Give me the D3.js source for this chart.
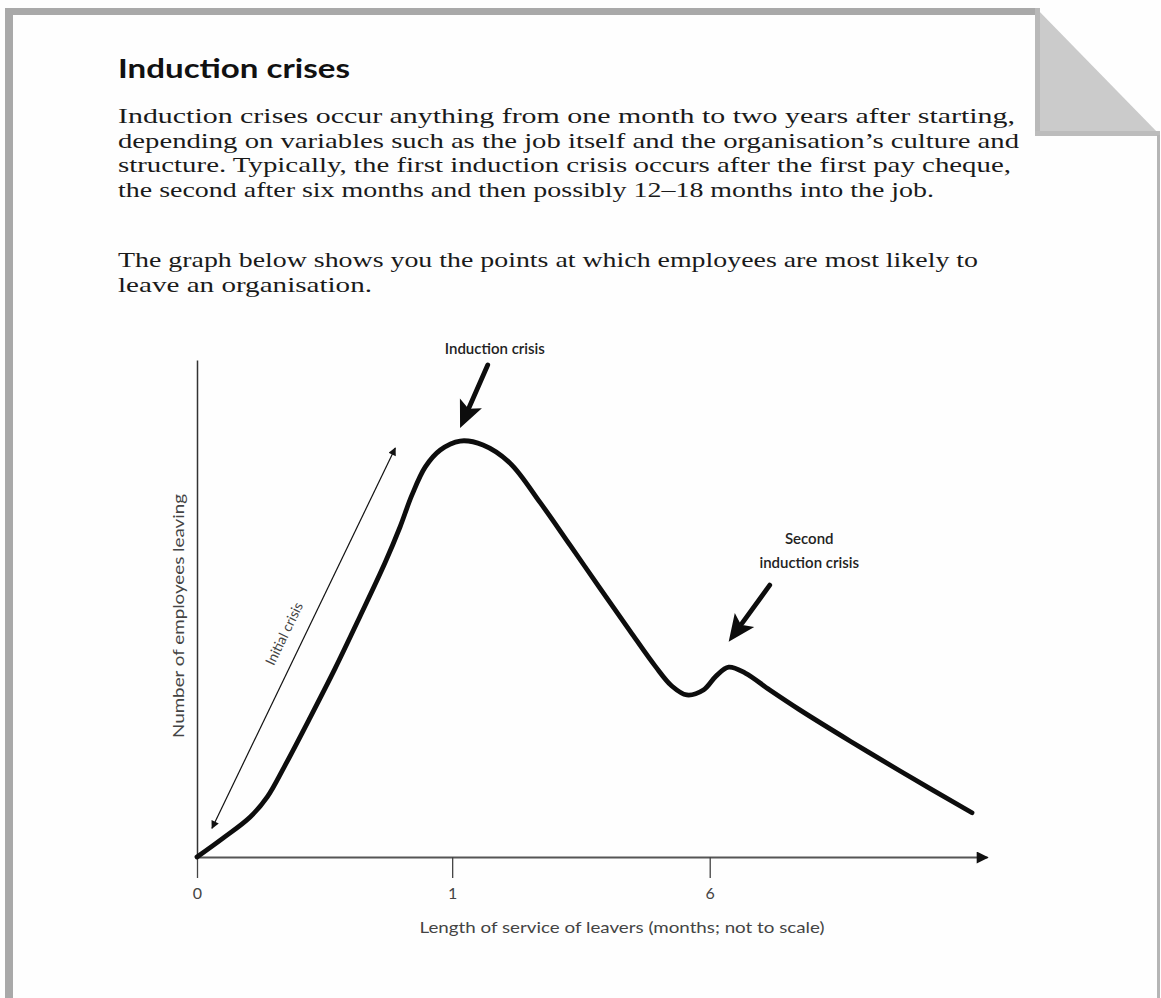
<!DOCTYPE html>
<html><head><meta charset="utf-8">
<script src="https://cdn.jsdelivr.net/npm/d3@7"></script>
<style>html,body{margin:0;padding:0;background:#fff;} svg{display:block;}</style>
</head><body>
<script>
// ---- text content ----
const titleText = "Induction crises";
const bodyLines = [
  "Induction crises occur anything from one month to two years after starting,",
  "depending on variables such as the job itself and the organisation\u2019s culture and",
  "structure. Typically, the first induction crisis occurs after the first pay cheque,",
  "the second after six months and then possibly 12\u201318 months into the job.",
  "The graph below shows you the points at which employees are most likely to",
  "leave an organisation."
];
const xAxisTitle = "Length of service of leavers (months; not to scale)";
const yAxisTitle = "Number of employees leaving";

// ---- axis ticks (x axis is "not to scale": positions on a 0-100 sketch axis) ----
const tickPositions = [0, 32.3, 64.9];
const tickLabels = ["0", "1", "6"];

// ---- curve: number of employees leaving (sketch units 0-100) ----
const curveX = [0, 3.3, 6.7, 8.9, 11.1, 14.3, 17.5, 20.6, 23.8, 25.7, 27.2, 28.9, 30.8, 33.3, 36.2, 39.6, 43.4, 47.2, 51.0, 54.8, 58.0, 60.1, 62.0, 64.1, 65.7, 67.3, 69.4, 72.5, 76.3, 82.7, 89.0, 98.1];
const curveY = [0, 3.8, 8.0, 12.1, 18.3, 28.0, 38.0, 48.3, 59.2, 66.4, 72.8, 78.5, 81.9, 83.7, 82.9, 79.3, 71.4, 62.8, 54.1, 45.5, 38.4, 34.4, 32.6, 33.6, 36.4, 38.2, 37.0, 33.6, 29.6, 23.3, 17.3, 8.9];

// ---- annotations (in sketch units) ----
const annotLabels = [["Induction crisis"], ["Second", "induction crisis"]];
const annotLabelPos = [[37.7, 101.3], [77.5, 63.0]];
const annotArrowFrom = [[36.8, 99.0], [72.5, 54.7]];
const annotArrowTo = [[33.3, 86.3], [67.3, 43.3]];
const initialLabel = "Initial crisis";
const initialFrom = [1.9, 5.8];
const initialTo = [25.1, 82.3];
const initialLabelPos = [11.6, 44.5];

// ---- drawing ----
const W = 1161, H = 998;
const svg = d3.select("body").append("svg").attr("width", W).attr("height", H);
svg.append("rect").attr("width", W).attr("height", H).attr("fill", "#fefefe");

// page frame with folded corner
const frame = svg.append("g");
frame.append("rect").attr("x", 5).attr("y", 8).attr("width", 8).attr("height", H - 8).attr("fill", "#a9a9a9");
frame.append("rect").attr("x", 5).attr("y", 8).attr("width", 1032).attr("height", 7).attr("fill", "#a9a9a9");
frame.append("polygon").attr("points", "1036,8 1036,135 1160,135").attr("fill", "#cbcbcb");
frame.append("rect").attr("x", 1035).attr("y", 8).attr("width", 5).attr("height", 128).attr("fill", "#b9b9b9");
frame.append("rect").attr("x", 1035).attr("y", 131).attr("width", 125).attr("height", 5).attr("fill", "#bcbcbc");
frame.append("rect").attr("x", 1157).attr("y", 135).attr("width", 3).attr("height", H - 135).attr("fill", "#b5b5b5");

// heading + body text
svg.append("text").attr("x", 118).attr("y", 78)
  .attr("font-family", "Lato, 'Open Sans', sans-serif").attr("font-weight", "bold")
  .attr("font-size", 27).attr("fill", "#111")
  .attr("textLength", 232).attr("lengthAdjust", "spacingAndGlyphs")
  .text(titleText);

const bodyBaselines = [123, 147.6, 172.2, 196.8, 267, 291.6];
const bodyWidths = [897, 901, 893, 816, 860, 254];
svg.append("g").selectAll("text").data(bodyLines).join("text")
  .attr("x", 118).attr("y", (d, i) => bodyBaselines[i])
  .attr("font-family", "'Liberation Serif', 'DejaVu Serif', serif")
  .attr("font-size", 22).attr("fill", "#1a1a1a")
  .attr("textLength", (d, i) => bodyWidths[i]).attr("lengthAdjust", "spacingAndGlyphs")
  .text(d => d);

// scales
const x = d3.scaleLinear().domain([0, 100]).range([197, 987]);
const y = d3.scaleLinear().domain([0, 100]).range([857, 360]);

const defs = svg.append("defs");
defs.append("marker").attr("id", "axArrow").attr("viewBox", "0 0 10 10")
  .attr("refX", 9).attr("refY", 5).attr("markerWidth", 16).attr("markerHeight", 12)
  .attr("markerUnits", "userSpaceOnUse").attr("orient", "auto")
  .append("path").attr("d", "M0,0L10,5L0,10Z").attr("fill", "#111");
defs.append("marker").attr("id", "thinArrow").attr("viewBox", "0 0 10 10")
  .attr("refX", 9).attr("refY", 5).attr("markerWidth", 11).attr("markerHeight", 8)
  .attr("markerUnits", "userSpaceOnUse").attr("orient", "auto-start-reverse")
  .append("path").attr("d", "M0,0L10,5L0,10Z").attr("fill", "#111");

// x axis
const xAxis = svg.append("g").attr("transform", `translate(0,${y(0)})`)
  .call(d3.axisBottom(x).tickValues(tickPositions).tickFormat((d, i) => tickLabels[i])
    .tickSize(21).tickSizeOuter(0).tickPadding(10));
xAxis.select(".domain").attr("stroke", "#555").attr("stroke-width", 2).attr("marker-end", "url(#axArrow)");
xAxis.selectAll(".tick line").attr("stroke", "#444").attr("stroke-width", 1.3);
xAxis.selectAll(".tick text").attr("font-family", "Lato, 'Open Sans', sans-serif")
  .attr("font-size", 16).attr("fill", "#444");

// y axis
const yAxis = svg.append("g").attr("transform", `translate(${x(0)},0)`)
  .call(d3.axisLeft(y).tickValues([]).tickSizeOuter(0));
yAxis.select(".domain").attr("stroke", "#333").attr("stroke-width", 1.5);

// axis titles
svg.append("text").attr("x", (x(0) + x(100)) / 2 + 30).attr("y", 933)
  .attr("text-anchor", "middle").attr("font-family", "Lato, 'Open Sans', sans-serif")
  .attr("font-size", 15).attr("fill", "#444")
  .attr("textLength", 405).attr("lengthAdjust", "spacingAndGlyphs")
  .text(xAxisTitle);
svg.append("text").attr("transform", `translate(184,${y(48.5)}) rotate(-90)`)
  .attr("text-anchor", "middle").attr("font-family", "Lato, 'Open Sans', sans-serif")
  .attr("font-size", 15).attr("fill", "#444")
  .attr("textLength", 244).attr("lengthAdjust", "spacingAndGlyphs")
  .text(yAxisTitle);

// curve
const pts = curveX.map((v, i) => [v, curveY[i]]);
svg.append("path").datum(pts)
  .attr("d", d3.line().x(d => x(d[0])).y(d => y(d[1])).curve(d3.curveCatmullRom.alpha(0.5)))
  .attr("fill", "none").attr("stroke", "#0d0d0d").attr("stroke-width", 4.8)
  .attr("stroke-linecap", "round").attr("stroke-linejoin", "round");

// initial crisis double arrow
svg.append("line")
  .attr("x1", x(initialFrom[0])).attr("y1", y(initialFrom[1]))
  .attr("x2", x(initialTo[0])).attr("y2", y(initialTo[1]))
  .attr("stroke", "#111").attr("stroke-width", 1.2)
  .attr("marker-start", "url(#thinArrow)").attr("marker-end", "url(#thinArrow)");
const ang = Math.atan2(y(initialTo[1]) - y(initialFrom[1]), x(initialTo[0]) - x(initialFrom[0])) * 180 / Math.PI;
svg.append("text")
  .attr("transform", `translate(${x(initialLabelPos[0])},${y(initialLabelPos[1])}) rotate(${ang})`)
  .attr("text-anchor", "middle").attr("font-family", "Lato, 'Open Sans', sans-serif")
  .attr("font-size", 14).attr("fill", "#444").text(initialLabel);

// bold annotation arrows
function bigArrow(from, to) {
  const x1 = x(from[0]), y1 = y(from[1]), x2 = x(to[0]), y2 = y(to[1]);
  const dx = x2 - x1, dy = y2 - y1, L = Math.hypot(dx, dy);
  const ux = dx / L, uy = dy / L, px = -uy, py = ux;
  const hl = 27, hw = 12;
  const bx = x2 - ux * hl, by = y2 - uy * hl;
  svg.append("line").attr("x1", x1).attr("y1", y1).attr("x2", bx + ux * 4).attr("y2", by + uy * 4)
    .attr("stroke", "#0d0d0d").attr("stroke-width", 4.8).attr("stroke-linecap", "round");
  svg.append("path")
    .attr("d", `M${x2},${y2}L${bx + px * hw},${by + py * hw}L${bx + ux * 6},${by + uy * 6}L${bx - px * hw},${by - py * hw}Z`)
    .attr("fill", "#0d0d0d");
}
annotArrowFrom.forEach((f, i) => bigArrow(f, annotArrowTo[i]));

annotLabels.forEach((lines, i) => {
  svg.append("text").attr("x", x(annotLabelPos[i][0])).attr("y", y(annotLabelPos[i][1]))
    .attr("text-anchor", "middle").attr("font-family", "Lato, 'Open Sans', sans-serif")
    .attr("font-weight", 600).attr("font-size", 15).attr("fill", "#222")
    .selectAll("tspan").data(lines).join("tspan")
    .attr("x", x(annotLabelPos[i][0])).attr("dy", (d, j) => j === 0 ? 0 : 24)
    .text(d => d);
});
</script>
</body></html>
